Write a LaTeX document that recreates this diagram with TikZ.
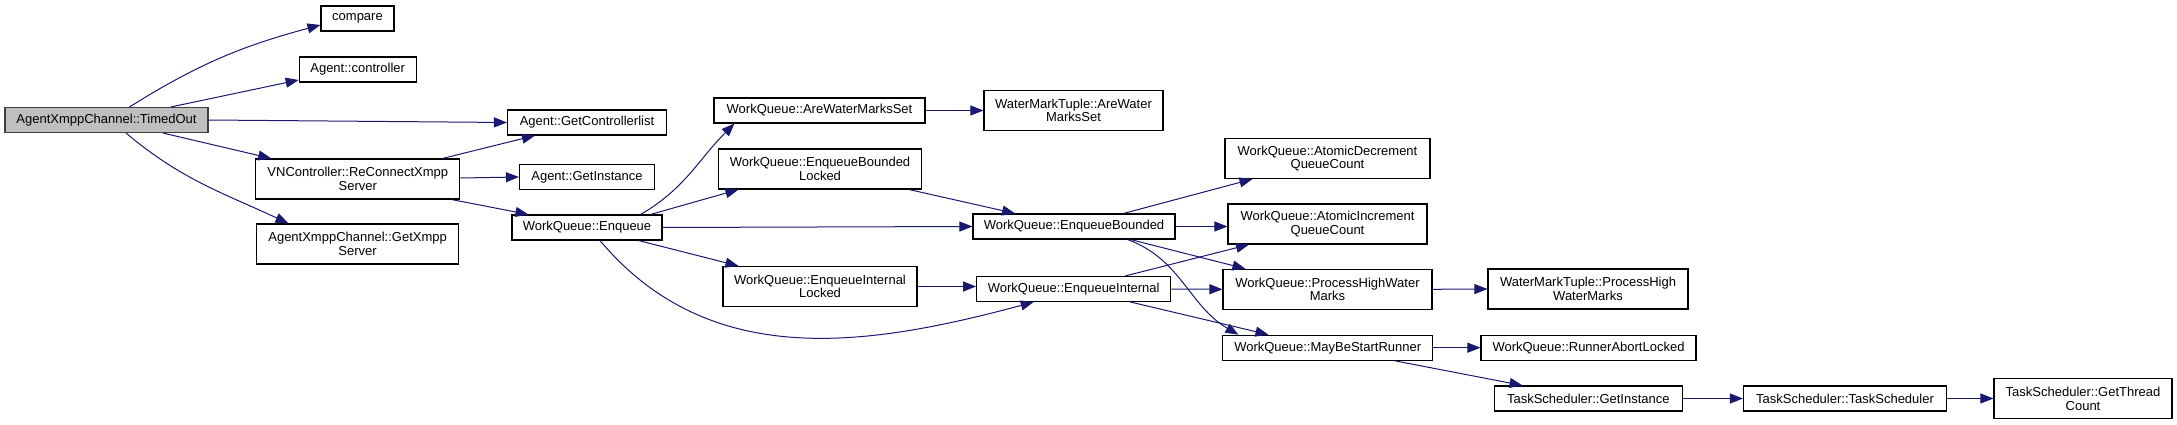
\documentclass[tikz,border=0pt]{standalone}
\usepackage{fontspec}
\setmainfont{Liberation Sans}
\usetikzlibrary{arrows.meta}
\definecolor{edgeblue}{HTML}{191970}
\definecolor{rootfill}{HTML}{BFBFBF}
\tikzset{fnbox/.style={draw=black, line width=1.1pt, fill=white, rectangle, inner sep=0pt,
    minimum height=25pt, align=center, font=\fontsize{13}{13.5}\selectfont},
  twoline/.style={minimum height=40pt},
  call/.style={draw=edgeblue, line width=1pt, -{Triangle[length=13pt,width=10pt]}}}

\begin{document}
\begin{tikzpicture}[x=1pt,y=-1pt]
    \useasboundingbox (0,0) rectangle (2177,425);
    % functions
    \node[fnbox, minimum width=203pt, fill=rootfill, draw=black!75] (timed) at (106.5,120) {AgentXmppChannel::TimedOut};
    \node[fnbox, minimum width=73pt] (compare) at (357.5,18.5) {compare};
    \node[fnbox, minimum width=117pt] (controller) at (357.7,69.5) {Agent::controller};
    \node[fnbox, minimum width=159pt] (ctrllist) at (587,122.5) {Agent::GetControllerlist};
    \node[fnbox, twoline, minimum width=204pt] (reconnect) at (357.8,179) {VNController::ReConnectXmpp\\Server};
    \node[fnbox, minimum width=135pt] (getinst) at (587,177) {Agent::GetInstance};
    \node[fnbox, minimum width=150pt] (enqueue) at (587,227.5) {WorkQueue::Enqueue};
    \node[fnbox, twoline, minimum width=202pt] (getxmpp) at (357.6,244) {AgentXmppChannel::GetXmpp\\Server};
    \node[fnbox, minimum width=211pt] (arewm) at (819.5,110.5) {WorkQueue::AreWaterMarksSet};
    \node[fnbox, twoline, minimum width=179pt] (wmtarewm) at (1073.5,110.5) {WaterMarkTuple::AreWater\\MarksSet};
    \node[fnbox, twoline, minimum width=203pt] (eblocked) at (820,169) {WorkQueue::EnqueueBounded\\Locked};
    \node[fnbox, minimum width=202pt] (ebounded) at (1074,226.5) {WorkQueue::EnqueueBounded};
    \node[fnbox, twoline, minimum width=194pt] (eilocked) at (820,286.5) {WorkQueue::EnqueueInternal\\Locked};
    \node[fnbox, minimum width=194pt] (einternal) at (1073.7,289) {WorkQueue::EnqueueInternal};
    \node[fnbox, twoline, minimum width=205pt] (atomicdec) at (1327.5,158.5) {WorkQueue::AtomicDecrement\\QueueCount};
    \node[fnbox, twoline, minimum width=199pt] (atomicinc) at (1327.5,224) {WorkQueue::AtomicIncrement\\QueueCount};
    \node[fnbox, twoline, minimum width=209pt] (processhw) at (1327.5,289.3) {WorkQueue::ProcessHighWater\\Marks};
    \node[fnbox, twoline, minimum width=200pt] (wmtprocess) at (1588,289) {WaterMarkTuple::ProcessHigh\\WaterMarks};
    \node[fnbox, minimum width=210pt] (maybestart) at (1327.7,347.7) {WorkQueue::MayBeStartRunner};
    \node[fnbox, minimum width=215pt] (runnerabort) at (1588.5,347.7) {WorkQueue::RunnerAbortLocked};
    \node[fnbox, minimum width=187.5pt] (tsinstance) at (1588.3,398.5) {TaskScheduler::GetInstance};
    \node[fnbox, minimum width=203pt] (tsctor) at (1845,398.5) {TaskScheduler::TaskScheduler};
    \node[fnbox, twoline, minimum width=178pt] (threadcount) at (2083,398.7) {TaskScheduler::GetThread\\Count};
    % calls from TimedOut
    \draw[call] ([xshift=23pt]timed.north) to[out=32,in=195] ([yshift=-6.5pt]compare.west);
    \draw[call] ([xshift=64.5pt]timed.north) -- ([yshift=-10.5pt]controller.west);
    \draw[call] (timed.east) -- (ctrllist.west);
    \draw[call] ([xshift=56.5pt]timed.south) -- ([xshift=16pt]reconnect.north west);
    \draw[call] ([xshift=19.5pt]timed.south) to[out=-40,in=155] ([xshift=32.4pt]getxmpp.north west);
    % calls from ReConnectXmppServer
    \draw[call] ([xshift=-17.8pt]reconnect.north east) -- ([xshift=28pt]ctrllist.south west);
    \draw[call] ([yshift=1pt]reconnect.east) -- (getinst.west);
    \draw[call] ([xshift=-8.8pt]reconnect.south east) -- ([xshift=17pt]enqueue.north west);
    % calls from Enqueue
    \draw[call] ([xshift=-22pt]enqueue.north east) to[out=30,in=225] ([xshift=21pt]arewm.south west);
    \draw[call] ([xshift=-12pt]enqueue.north east) -- ([xshift=20.5pt]eblocked.south west);
    \draw[call] (enqueue.east) -- (ebounded.west);
    \draw[call] ([xshift=-24pt]enqueue.south east) -- ([xshift=16pt]eilocked.north west);
    \draw[call] ([xshift=13pt]enqueue.south) to[out=-50,in=195] ([xshift=-40pt]einternal.south);
    \draw[call] (arewm.east) -- (wmtarewm.west);
    \draw[call] ([xshift=-13pt]eblocked.south east) -- ([xshift=42.7pt]ebounded.north west);
    % calls from EnqueueBounded
    \draw[call] ([xshift=-52pt]ebounded.north east) -- ([xshift=28pt]atomicdec.south west);
    \draw[call] (ebounded.east) -- (ebounded.east -| atomicinc.west);
    \draw[call] ([xshift=-45pt]ebounded.south east) -- ([xshift=23pt]processhw.north west);
    \draw[call] ([xshift=-48pt]ebounded.south east) to[out=-20,in=150] ([xshift=16.3pt]maybestart.north west);
    % calls from EnqueueInternal
    \draw[call] (eilocked.east) -- (eilocked.east -| einternal.west);
    \draw[call] ([xshift=-46pt]einternal.north east) -- ([xshift=21.6pt]atomicinc.south west);
    \draw[call] (einternal.east) -- (processhw.west);
    \draw[call] ([xshift=-40.7pt]einternal.south east) -- ([xshift=46.3pt]maybestart.north west);
    % the rest
    \draw[call] (processhw.east) -- (wmtprocess.west);
    \draw[call] (maybestart.east) -- (runnerabort.west);
    \draw[call] ([xshift=-38.7pt]maybestart.south east) -- ([xshift=28.5pt]tsinstance.north west);
    \draw[call] (tsinstance.east) -- (tsctor.west);
    \draw[call] (tsctor.east) -- (tsctor.east -| threadcount.west);
\end{tikzpicture}
\end{document}
